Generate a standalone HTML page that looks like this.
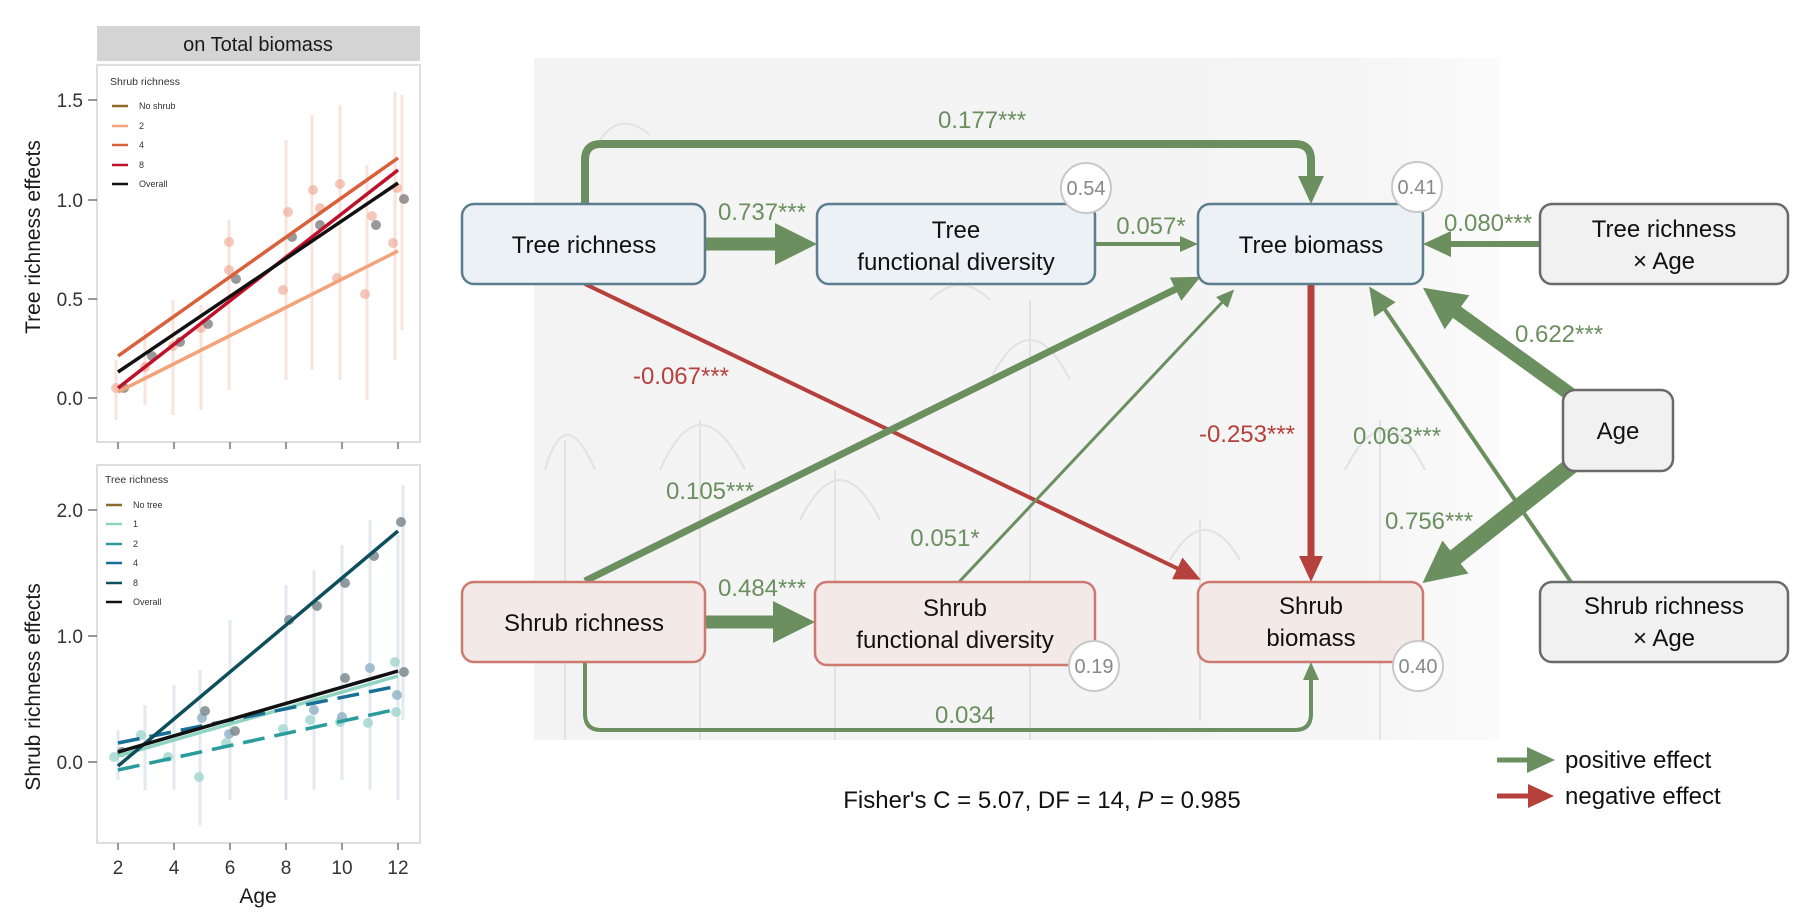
<!DOCTYPE html>
<html><head><meta charset="utf-8"><style>
html,body{margin:0;padding:0;background:#fff;}
svg{display:block;font-family:"Liberation Sans",Arial,sans-serif;}
</style></head><body>
<svg width="1811" height="919" viewBox="0 0 1811 919" xmlns="http://www.w3.org/2000/svg">
<defs>
<marker id="gl" markerUnits="userSpaceOnUse" markerWidth="42" markerHeight="42" refX="21" refY="21" orient="auto" viewBox="0 0 42 42"><path d="M0,0L42,21L0,42z" fill="#6b8f5f"/></marker>
<marker id="gm" markerUnits="userSpaceOnUse" markerWidth="28" markerHeight="26" refX="14" refY="13" orient="auto" viewBox="0 0 28 26"><path d="M0,0L28,13L0,26z" fill="#6b8f5f"/></marker>
<marker id="gs" markerUnits="userSpaceOnUse" markerWidth="18" markerHeight="16" refX="9" refY="8" orient="auto" viewBox="0 0 18 16"><path d="M0,0L18,8L0,16z" fill="#6b8f5f"/></marker>
<marker id="rm" markerUnits="userSpaceOnUse" markerWidth="26" markerHeight="24" refX="13" refY="12" orient="auto" viewBox="0 0 26 24"><path d="M0,0L26,12L0,24z" fill="#b5403c"/></marker>
<linearGradient id="bg" x1="0" x2="1" y1="0" y2="0"><stop offset="0" stop-color="#f3f3f3"/><stop offset="0.85" stop-color="#f5f5f5"/><stop offset="1" stop-color="#fbfbfb"/></linearGradient>
</defs>

<!-- ============ LEFT PLOTS ============ -->
<rect x="97" y="26" width="323" height="35" fill="#d4d4d4"/>
<text x="258" y="51" font-size="20" text-anchor="middle" fill="#1a1a1a">on Total biomass</text>

<rect x="97" y="65" width="323" height="377" fill="#fff" stroke="#c8c8c8" stroke-width="1.2"/>
<g stroke="#f9e2d8" stroke-width="3" opacity="0.9">
<line x1="116" y1="420" x2="116" y2="360"/><line x1="145" y1="405" x2="145" y2="330"/><line x1="173" y1="415" x2="173" y2="300"/><line x1="201" y1="410" x2="201" y2="305"/><line x1="229" y1="390" x2="229" y2="220"/><line x1="286" y1="380" x2="286" y2="140"/><line x1="312" y1="370" x2="312" y2="115"/><line x1="340" y1="380" x2="340" y2="105"/><line x1="367" y1="400" x2="367" y2="165"/><line x1="395" y1="360" x2="395" y2="92"/><line x1="402" y1="330" x2="402" y2="95"/>
</g>
<g fill="#f0a38e" opacity="0.6">
<circle cx="116" cy="388" r="5"/><circle cx="145" cy="367" r="5"/><circle cx="173" cy="346" r="5"/><circle cx="201" cy="328" r="5"/><circle cx="229" cy="242" r="5"/><circle cx="229" cy="270" r="5"/><circle cx="288" cy="212" r="5"/><circle cx="283" cy="290" r="5"/><circle cx="313" cy="190" r="5"/><circle cx="320" cy="208" r="5"/><circle cx="340" cy="184" r="5"/><circle cx="337" cy="278" r="5"/><circle cx="372" cy="216" r="5"/><circle cx="365" cy="294" r="5"/><circle cx="393" cy="243" r="5"/><circle cx="397" cy="188" r="5"/>
</g>
<g fill="#808080" opacity="0.8"><circle cx="124" cy="388" r="5"/><circle cx="152" cy="356" r="5"/><circle cx="180" cy="342" r="5"/><circle cx="208" cy="324" r="5"/><circle cx="236" cy="279" r="5"/><circle cx="292" cy="237" r="5"/><circle cx="320" cy="225" r="5"/><circle cx="376" cy="225" r="5"/><circle cx="404" cy="199" r="5"/></g>
<line x1="118" y1="388" x2="398" y2="170" stroke="#c0102a" stroke-width="3.5"/>
<line x1="118" y1="392" x2="398" y2="251" stroke="#f2a37a" stroke-width="3.5"/>
<line x1="118" y1="356" x2="398" y2="158" stroke="#d9603b" stroke-width="3.5"/>
<line x1="118" y1="372" x2="398" y2="183" stroke="#111" stroke-width="3.5"/>
<text x="110" y="85" font-size="10.5" fill="#333">Shrub richness</text>
<g stroke-width="2.5"><line x1="112" y1="106" x2="128" y2="106" stroke="#8b6a2a"/><line x1="112" y1="126" x2="128" y2="126" stroke="#f2a37a"/><line x1="112" y1="145" x2="128" y2="145" stroke="#d9603b"/><line x1="112" y1="165" x2="128" y2="165" stroke="#c0102a"/><line x1="112" y1="184" x2="128" y2="184" stroke="#111"/></g>
<g font-size="9" fill="#333"><text x="139" y="109">No shrub</text><text x="139" y="129">2</text><text x="139" y="148">4</text><text x="139" y="168">8</text><text x="139" y="187">Overall</text></g>
<g stroke="#555" stroke-width="1.2"><line x1="88" y1="100" x2="97" y2="100"/><line x1="88" y1="200" x2="97" y2="200"/><line x1="88" y1="299" x2="97" y2="299"/><line x1="88" y1="398" x2="97" y2="398"/>
<line x1="118" y1="442" x2="118" y2="449"/><line x1="174" y1="442" x2="174" y2="449"/><line x1="230" y1="442" x2="230" y2="449"/><line x1="286" y1="442" x2="286" y2="449"/><line x1="342" y1="442" x2="342" y2="449"/><line x1="398" y1="442" x2="398" y2="449"/></g>
<g font-size="19" fill="#333" text-anchor="end"><text x="83" y="107">1.5</text><text x="83" y="207">1.0</text><text x="83" y="306">0.5</text><text x="83" y="405">0.0</text></g>
<text transform="translate(40,237) rotate(-90)" font-size="21" text-anchor="middle" fill="#1a1a1a">Tree richness effects</text>

<rect x="97" y="465" width="323" height="378" fill="#fff" stroke="#c8c8c8" stroke-width="1.2"/>
<g stroke="#e3e9ef" stroke-width="3">
<line x1="118" y1="780" x2="118" y2="730"/><line x1="145" y1="790" x2="145" y2="705"/><line x1="174" y1="790" x2="174" y2="685"/><line x1="200" y1="825" x2="200" y2="670"/><line x1="230" y1="800" x2="230" y2="620"/><line x1="286" y1="800" x2="286" y2="585"/><line x1="314" y1="790" x2="314" y2="570"/><line x1="342" y1="780" x2="342" y2="545"/><line x1="370" y1="790" x2="370" y2="520"/><line x1="398" y1="800" x2="398" y2="535"/><line x1="403" y1="720" x2="403" y2="485"/>
</g>
<g fill="#9fd6cf" opacity="0.8"><circle cx="114" cy="757" r="5"/><circle cx="141" cy="735" r="5"/><circle cx="168" cy="757" r="5"/><circle cx="199" cy="777" r="5"/><circle cx="226" cy="743" r="5"/><circle cx="283" cy="729" r="5"/><circle cx="310" cy="720" r="5"/><circle cx="340" cy="722" r="5"/><circle cx="368" cy="723" r="5"/><circle cx="396" cy="712" r="5"/><circle cx="395" cy="662" r="5"/></g>
<g fill="#8fb0c8" opacity="0.8"><circle cx="202" cy="718" r="5"/><circle cx="229" cy="734" r="5"/><circle cx="314" cy="710" r="5"/><circle cx="342" cy="717" r="5"/><circle cx="370" cy="668" r="5"/><circle cx="397" cy="695" r="5"/></g>
<g fill="#7d8a90" opacity="0.85"><circle cx="122" cy="752" r="5"/><circle cx="205" cy="711" r="5"/><circle cx="235" cy="731" r="5"/><circle cx="289" cy="620" r="5"/><circle cx="317" cy="606" r="5"/><circle cx="345" cy="583" r="5"/><circle cx="374" cy="556" r="5"/><circle cx="401" cy="522" r="5"/><circle cx="345" cy="678" r="5"/><circle cx="404" cy="672" r="5"/></g>
<line x1="118" y1="756" x2="398" y2="676" stroke="#8fd4c0" stroke-width="3.5"/>
<line x1="118" y1="770" x2="398" y2="709" stroke="#2a9c9c" stroke-width="3.5" stroke-dasharray="22,10"/>
<line x1="118" y1="743" x2="398" y2="686" stroke="#1a6f96" stroke-width="3.5" stroke-dasharray="22,10"/>
<line x1="118" y1="766" x2="398" y2="531" stroke="#0d4f5c" stroke-width="3.5"/>
<line x1="118" y1="752" x2="398" y2="671" stroke="#111" stroke-width="3.5"/>
<text x="105" y="483" font-size="10.5" fill="#333">Tree richness</text>
<g stroke-width="2.5"><line x1="106" y1="505" x2="122" y2="505" stroke="#8b6a2a"/><line x1="106" y1="524" x2="122" y2="524" stroke="#8fd4c0"/><line x1="106" y1="544" x2="122" y2="544" stroke="#2a9c9c"/><line x1="106" y1="563" x2="122" y2="563" stroke="#1a6f96"/><line x1="106" y1="583" x2="122" y2="583" stroke="#0d4f5c"/><line x1="106" y1="602" x2="122" y2="602" stroke="#111"/></g>
<g font-size="9" fill="#333"><text x="133" y="508">No tree</text><text x="133" y="527">1</text><text x="133" y="547">2</text><text x="133" y="566">4</text><text x="133" y="586">8</text><text x="133" y="605">Overall</text></g>
<g stroke="#555" stroke-width="1.2"><line x1="88" y1="510" x2="97" y2="510"/><line x1="88" y1="636" x2="97" y2="636"/><line x1="88" y1="762" x2="97" y2="762"/>
<line x1="118" y1="843" x2="118" y2="850"/><line x1="174" y1="843" x2="174" y2="850"/><line x1="230" y1="843" x2="230" y2="850"/><line x1="286" y1="843" x2="286" y2="850"/><line x1="342" y1="843" x2="342" y2="850"/><line x1="398" y1="843" x2="398" y2="850"/></g>
<g font-size="19" fill="#333" text-anchor="end"><text x="83" y="517">2.0</text><text x="83" y="643">1.0</text><text x="83" y="769">0.0</text></g>
<g font-size="19" fill="#333" text-anchor="middle"><text x="118" y="874">2</text><text x="174" y="874">4</text><text x="230" y="874">6</text><text x="286" y="874">8</text><text x="342" y="874">10</text><text x="398" y="874">12</text></g>
<text x="258" y="903" font-size="21" text-anchor="middle" fill="#1a1a1a">Age</text>
<text transform="translate(40,687) rotate(-90)" font-size="21" text-anchor="middle" fill="#1a1a1a">Shrub richness effects</text>

<!-- ============ DIAGRAM ============ -->
<rect x="534" y="58" width="966" height="682" fill="url(#bg)"/>
<g fill="none" stroke="#e2e2e2" stroke-width="2">
<path d="M565,740 V440"/><path d="M545,470 Q565,400 595,470"/>
<path d="M700,740 V420 M660,470 Q700,380 745,470"/>
<path d="M835,740 V470 M800,520 Q840,440 880,520"/>
<path d="M1030,740 V300 M990,380 Q1030,300 1070,380"/>
<path d="M1380,740 V420 M1345,470 Q1385,390 1425,470"/>
<path d="M1200,720 V520 M1170,560 Q1205,500 1240,560"/>
<path d="M600,140 Q620,110 650,135"/><path d="M930,300 Q960,270 990,300"/>
</g>

<g fill="none" stroke-linecap="butt">
<path d="M585,204 V160 Q585,144 601,144 H1295 Q1311,144 1311,160 V190" stroke="#6b8f5f" stroke-width="8" marker-end="url(#gm)"/>
<path d="M585,662 V714 Q585,730 601,730 H1295 Q1311,730 1311,714 V671" stroke="#6b8f5f" stroke-width="4" marker-end="url(#gs)"/>
<line x1="705" y1="244" x2="796" y2="244" stroke="#6b8f5f" stroke-width="13" marker-end="url(#gl)"/>
<line x1="1095" y1="244" x2="1189" y2="244" stroke="#6b8f5f" stroke-width="4" marker-end="url(#gs)"/>
<line x1="1540" y1="244" x2="1437" y2="244" stroke="#6b8f5f" stroke-width="6" marker-end="url(#gm)"/>
<line x1="1570" y1="394" x2="1440" y2="300" stroke="#6b8f5f" stroke-width="14" marker-end="url(#gl)"/>
<line x1="1572" y1="465" x2="1439" y2="570" stroke="#6b8f5f" stroke-width="17" marker-end="url(#gl)"/>
<line x1="1571" y1="582" x2="1377" y2="298" stroke="#6b8f5f" stroke-width="4" marker-end="url(#gm)"/>
<line x1="585" y1="284" x2="1189" y2="574" stroke="#b5403c" stroke-width="4" marker-end="url(#rm)"/>
<line x1="585" y1="581" x2="1188" y2="283" stroke="#6b8f5f" stroke-width="7" marker-end="url(#gm)"/>
<line x1="959" y1="582" x2="1228" y2="296" stroke="#6b8f5f" stroke-width="3" marker-end="url(#gs)"/>
<line x1="1311" y1="284" x2="1311" y2="569" stroke="#b5403c" stroke-width="7" marker-end="url(#rm)"/>
<line x1="705" y1="622" x2="794" y2="622" stroke="#6b8f5f" stroke-width="13" marker-end="url(#gl)"/>
</g>

<g stroke-width="2.5">
<rect x="462" y="204" width="243" height="80" rx="12" fill="#ebf1f5" stroke="#5b7d8e"/>
<rect x="817" y="204" width="278" height="80" rx="12" fill="#ebf1f5" stroke="#5b7d8e"/>
<rect x="1198" y="204" width="225" height="80" rx="12" fill="#ebf1f5" stroke="#5b7d8e"/>
<rect x="462" y="582" width="243" height="80" rx="12" fill="#f3e9e7" stroke="#cc7a70"/>
<rect x="815" y="582" width="280" height="83" rx="12" fill="#f3e9e7" stroke="#cc7a70"/>
<rect x="1198" y="582" width="225" height="80" rx="12" fill="#f3e9e7" stroke="#cc7a70"/>
<rect x="1540" y="204" width="248" height="80" rx="12" fill="#f1f1f1" stroke="#6a6a6a"/>
<rect x="1563" y="390" width="110" height="81" rx="12" fill="#f1f1f1" stroke="#6a6a6a"/>
<rect x="1540" y="582" width="248" height="80" rx="12" fill="#f1f1f1" stroke="#6a6a6a"/>
</g>
<g font-size="24" fill="#111" text-anchor="middle">
<text x="584" y="253">Tree richness</text>
<text x="956" y="238">Tree</text><text x="956" y="270">functional diversity</text>
<text x="1311" y="253">Tree biomass</text>
<text x="584" y="631">Shrub richness</text>
<text x="955" y="616">Shrub</text><text x="955" y="648">functional diversity</text>
<text x="1311" y="614">Shrub</text><text x="1311" y="646">biomass</text>
<text x="1664" y="237">Tree richness</text><text x="1664" y="269">× Age</text>
<text x="1618" y="439">Age</text>
<text x="1664" y="614">Shrub richness</text><text x="1664" y="646">× Age</text>
</g>
<g fill="#fff" stroke="#c8c8c8" stroke-width="2">
<circle cx="1086" cy="188" r="25"/><circle cx="1417" cy="187" r="25"/><circle cx="1094" cy="666" r="25"/><circle cx="1418" cy="666" r="25"/>
</g>
<g font-size="20" fill="#888" text-anchor="middle">
<text x="1086" y="195">0.54</text><text x="1417" y="194">0.41</text><text x="1094" y="673">0.19</text><text x="1418" y="673">0.40</text>
</g>

<g font-size="24" fill="#6b8f5f" text-anchor="middle">
<text x="982" y="128">0.177***</text>
<text x="762" y="220">0.737***</text>
<text x="1151" y="234">0.057*</text>
<text x="1488" y="231">0.080***</text>
<text x="1559" y="342">0.622***</text>
<text x="1397" y="444">0.063***</text>
<text x="710" y="499">0.105***</text>
<text x="945" y="546">0.051*</text>
<text x="1429" y="529">0.756***</text>
<text x="762" y="596">0.484***</text>
<text x="965" y="723">0.034</text>
</g>
<g font-size="24" fill="#b5403c" text-anchor="middle">
<text x="681" y="384">-0.067***</text>
<text x="1247" y="442">-0.253***</text>
</g>

<text x="1042" y="808" font-size="24" fill="#111" text-anchor="middle">Fisher's C = 5.07, DF = 14, <tspan font-style="italic">P</tspan> = 0.985</text>

<line x1="1497" y1="760" x2="1541" y2="760" stroke="#6b8f5f" stroke-width="5" marker-end="url(#gm)"/>
<line x1="1497" y1="796" x2="1541" y2="796" stroke="#b5403c" stroke-width="5" marker-end="url(#rm)"/>
<text x="1565" y="768" font-size="24" fill="#111">positive effect</text>
<text x="1565" y="804" font-size="24" fill="#111">negative effect</text>
</svg>
</body></html>
